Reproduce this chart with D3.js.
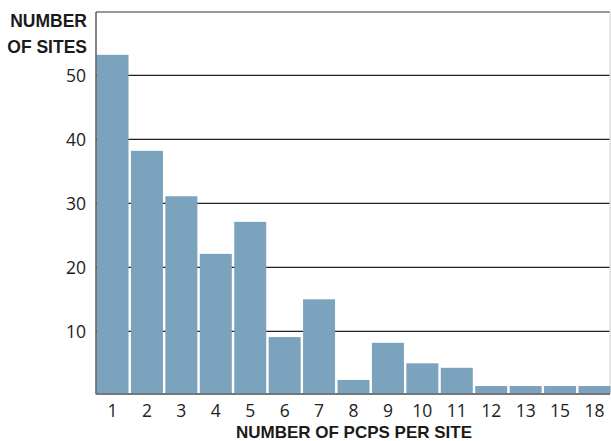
<!DOCTYPE html>
<html><head><meta charset="utf-8">
<script src="https://cdn.jsdelivr.net/npm/d3@7"></script>
<style>body{margin:0;background:#fff}svg{display:block}</style>
</head><body>
<svg id="c" width="611" height="441"></svg>
<script>
const categories = ["1","2","3","4","5","6","7","8","9","10","11","12","13","15","18"];
const sites = [53.2, 38.2, 31.1, 22.1, 27.1, 9.1, 15.0, 2.4, 8.2, 5.0, 4.3, 1.45, 1.45, 1.45, 1.45];
const yTicks = [10, 20, 30, 40, 50];
const yTitle = ["NUMBER", "OF SITES"];
const xTitle = "NUMBER OF PCPS PER SITE";

const svg = d3.select("#c");
const L = 96, R = 610, T = 12, B = 393.3;
const x = d3.scaleBand().domain(categories).range([L, R]).paddingInner(0.07).paddingOuter(0);
const y = d3.scaleLinear().domain([0, 55]).range([395.3, 395.3 - 55 * 6.4]);
const font = "'Open Sans', 'Noto Sans', sans-serif";
const titleFont = "'Liberation Sans', Arial, sans-serif";

// gridlines
svg.append("g").selectAll("line").data(yTicks).join("line")
  .attr("x1", L).attr("x2", R).attr("y1", d => y(d)).attr("y2", d => y(d))
  .attr("stroke", "#222").attr("stroke-width", 1.3);

// frame top/right
svg.append("line").attr("x1", L).attr("x2", R).attr("y1", T).attr("y2", T).attr("stroke", "#333").attr("stroke-width", 1.2);
svg.append("line").attr("x1", R).attr("x2", R).attr("y1", T).attr("y2", B).attr("stroke", "#ccc").attr("stroke-width", 1);

// bars
svg.append("g").selectAll("rect").data(sites).join("rect")
  .attr("x", (d, i) => x(categories[i]) + 0.5)
  .attr("width", x.bandwidth())
  .attr("y", d => y(d))
  .attr("height", d => B - y(d))
  .attr("fill", "#7ba3bd");

// axes lines
svg.append("line").attr("x1", L).attr("x2", L).attr("y1", T).attr("y2", B + 1).attr("stroke", "#444").attr("stroke-width", 1.3);
svg.append("line").attr("x1", L).attr("x2", R).attr("y1", B + 0.8).attr("y2", B + 0.8).attr("stroke", "#777").attr("stroke-width", 2);

// y axis labels
const yAxis = d3.axisLeft(y).tickValues(yTicks).tickSize(0).tickPadding(10);
const gy = svg.append("g").attr("transform", `translate(${L},0)`).call(yAxis);
gy.select(".domain").remove();
gy.selectAll("text").attr("font-family", font).attr("font-size", 17.5).attr("fill", "#222").attr("dy", "0.35em");

// x axis labels
const xAxis = d3.axisBottom(x).tickSize(0).tickPadding(11);
const gx = svg.append("g").attr("transform", `translate(0.5,${B})`).call(xAxis);
gx.select(".domain").remove();
gx.selectAll("text").attr("font-family", font).attr("font-size", 17.5).attr("fill", "#222");

// titles
svg.append("g").selectAll("text").data(yTitle).join("text")
  .attr("x", 87).attr("y", (d, i) => 27 + i * 25.5)
  .attr("text-anchor", "end").attr("font-family", titleFont).attr("font-weight", "bold")
  .attr("font-size", 17.5).attr("fill", "#1a1a1a").text(d => d);
svg.append("text").attr("x", 354).attr("y", 437.5)
  .attr("text-anchor", "middle").attr("font-family", titleFont).attr("font-weight", "bold")
  .attr("font-size", 17).attr("fill", "#1a1a1a").text(xTitle);
</script>
</body></html>
